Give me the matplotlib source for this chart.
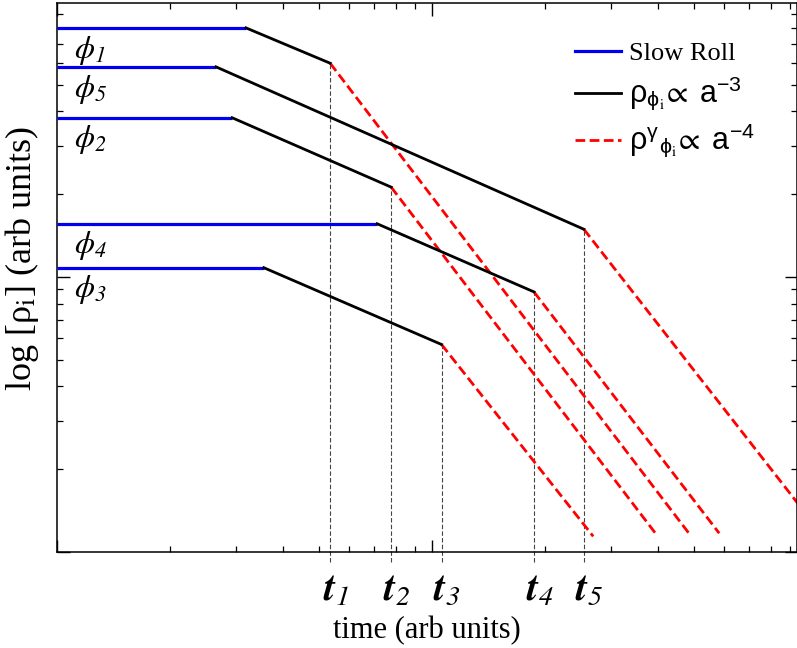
import numpy as np
import matplotlib as mpl
mpl.use("Agg")
import matplotlib.pyplot as plt
from matplotlib.lines import Line2D

mpl.rcParams['font.family'] = ['Liberation Serif', 'DejaVu Serif']
mpl.rcParams['mathtext.fontset'] = 'custom'
mpl.rcParams['mathtext.rm'] = 'STIXGeneral:italic'   # italic digits in subscripts
mpl.rcParams['mathtext.it'] = 'STIXGeneral:italic'
mpl.rcParams['mathtext.bf'] = 'STIXGeneral:italic:bold'
mpl.rcParams['mathtext.tt'] = 'STIXGeneral'          # upright serif
mpl.rcParams['mathtext.sf'] = 'Liberation Sans'
mpl.rcParams['mathtext.fallback'] = 'stix'

# fields phi_1 .. phi_5 (schematic, log-log, arbitrary units)
names = [r'$\phi_{1}$', r'$\phi_{2}$', r'$\phi_{3}$', r'$\phi_{4}$', r'$\phi_{5}$']
t_names = [r'$\mathbf{t}_{1}$', r'$\mathbf{t}_{2}$', r'$\mathbf{t}_{3}$',
           r'$\mathbf{t}_{4}$', r'$\mathbf{t}_{5}$']
start_x = [1.0, 1.0, 1.0, 1.0, 1.0]
roll_end_x = [3.19, 2.93, 3.56, 7.14, 2.655]   # end of slow roll
level_y = [80.4, 37.9, 10.8, 15.6, 58.0]        # slow roll plateau
t_x = [5.35, 7.78, 10.6, 18.7, 25.4]            # decay times t_i
t_y = [59.8, 21.2, 5.68, 8.82, 14.9]
red_end_x = [48.4, 39.6, 26.9, 58.3, 100.0]
red_end_y = [1.17, 1.16, 1.14, 1.17, 1.36]

fig = plt.figure(figsize=(7.97, 6.48), dpi=100)
ax = fig.add_axes([57/797, 1 - 552/648, 740/797, 549/648])
ax.set_xscale('log')
ax.set_yscale('log')
ax.set_xlim(1, 94)
ax.set_ylim(1, 99)

for i in range(5):
    # vertical marker down to the time axis
    ax.plot([t_x[i], t_x[i]], [0.92, t_y[i]], color='#444444', lw=0.8,
            dashes=(4, 2), clip_on=False, zorder=1)
    ax.plot([start_x[i], roll_end_x[i]], [level_y[i], level_y[i]],
            color='#0000ee', lw=2.3, solid_capstyle='butt', zorder=3)
    ax.plot([roll_end_x[i], t_x[i]], [level_y[i], t_y[i]],
            color='black', lw=2.0, zorder=3)
    ax.plot([t_x[i], red_end_x[i]], [t_y[i], red_end_y[i]],
            color='#ff0000', lw=2.0, dashes=(3.5, 1.6), zorder=2)
    ax.annotate(names[i], xy=(1.11, level_y[i]), xytext=(0, -16),
                textcoords='offset points', ha='left', va='center', fontsize=23)
    ax.annotate(t_names[i], xy=(t_x[i], 0), xycoords=ax.get_xaxis_transform(),
                xytext=(4, -28), textcoords='offset points', ha='center',
                va='center', fontsize=29)

ax.tick_params(which='both', direction='in', top=True, right=True,
               labelbottom=False, labelleft=False)
ax.tick_params(which='major', length=9, width=1)
ax.tick_params(which='minor', length=4.5, width=0.9)
for s in ax.spines.values():
    s.set_linewidth(1.1)

ax.set_xlabel('time (arb units)', fontsize=22, labelpad=46)
ax.set_ylabel(r'log [ρ$_\mathtt{i}$] (arb units)', fontsize=26)
ax.yaxis.set_label_coords(-0.021, 0.535)

handles = [
    Line2D([], [], color='#0000ee', lw=2.3),
    Line2D([], [], color='black', lw=2.0),
    Line2D([], [], color='#ff0000', lw=2.0, dashes=(3.5, 1.6)),
]
labels = [
    'Slow Roll',
    r'$\mathsf{\rho}_{\mathsf{\phi}_{\mathtt{i}}}\!\propto\ \mathsf{a}^{\mathsf{-3}}$',
    r'$\mathsf{\rho}^{\mathsf{\gamma}}{}_{\mathsf{\phi}_{\mathtt{i}}}\!\propto\ \mathsf{a}^{\mathsf{-4}}$',
]
leg = ax.legend(handles, labels, loc='upper left', bbox_to_anchor=(0.70, 0.93),
                frameon=False, fontsize=19, handlelength=1.75, handletextpad=0.3,
                labelspacing=0.35, borderpad=0, borderaxespad=0)
for txt in leg.get_texts()[1:]:
    txt.set_fontsize(22)

fig.savefig('out.png', dpi=100)
